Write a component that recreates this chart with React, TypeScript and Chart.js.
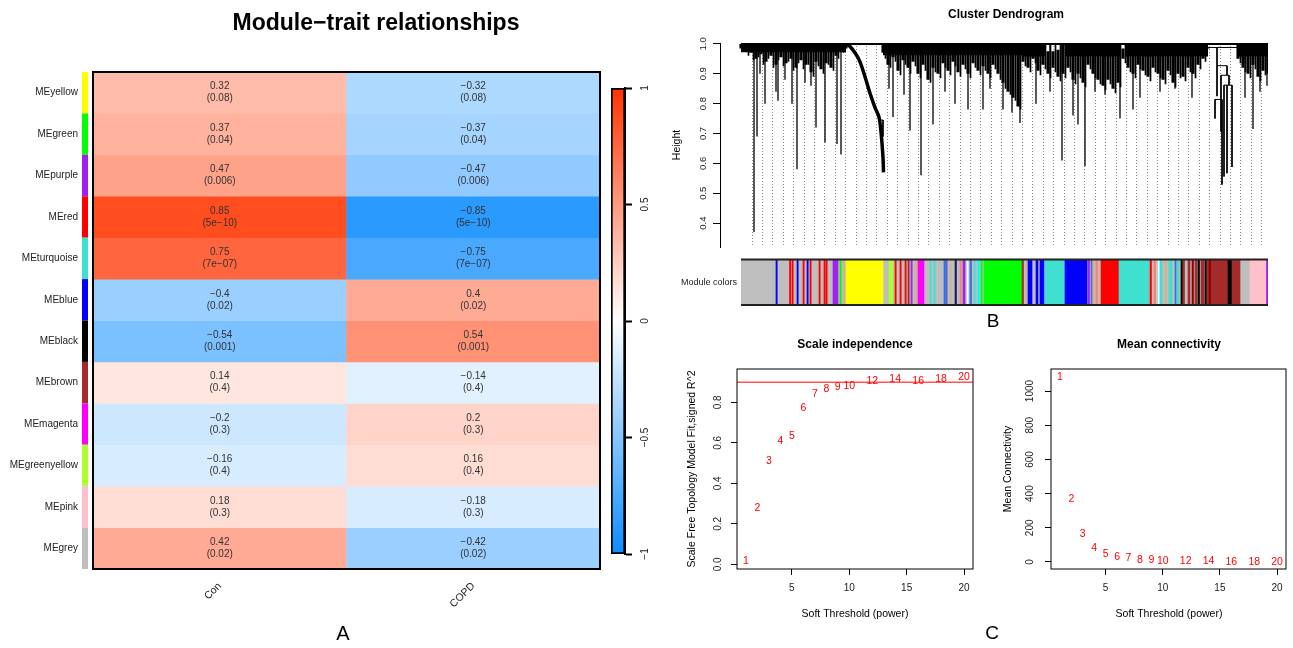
import React, { useEffect, useRef } from "react";
import { Chart, registerables } from "chart.js";

Chart.register(...registerables);

const FONT = '"Liberation Sans", Arial, Helvetica, sans-serif';
Chart.defaults.font.family = FONT;
Chart.defaults.color = "#222";
Chart.defaults.plugins.legend.display = false;
Chart.defaults.plugins.tooltip.enabled = false;

// ---------------- Panel A: module-trait heatmap ----------------
const modules = ["MEyellow", "MEgreen", "MEpurple", "MEred", "MEturquoise", "MEblue", "MEblack", "MEbrown", "MEmagenta", "MEgreenyellow", "MEpink", "MEgrey"];
const moduleColors = ["#FFFF00", "#00FF00", "#A020F0", "#FF0000", "#40E0D0", "#0000FF", "#000000", "#A52A2A", "#FF00FF", "#ADFF2F", "#FFC0CB", "#BEBEBE"];
const traits = ["Con", "COPD"];
const corCon = [0.32, 0.37, 0.47, 0.85, 0.75, -0.4, -0.54, 0.14, -0.2, -0.16, 0.18, 0.42];
const corCOPD = [-0.32, -0.37, -0.47, -0.85, -0.75, 0.4, 0.54, -0.14, 0.2, 0.16, -0.18, -0.42];
const pValues = ["0.08", "0.04", "0.006", "5e\u221210", "7e\u221207", "0.02", "0.001", "0.4", "0.3", "0.4", "0.3", "0.02"];
const colorbarTicks = [-1, -0.5, 0, 0.5, 1];

// ---------------- Panel B: dendrogram (leaf order 0-527, merge height) ----------------
// solid caps of the dense clusters: start, end, lower height
const capStart = [0, 142, 282, 324, 384, 497];
const capEnd = [105, 282, 305, 380, 467, 527];
const capFloor = [0.972, 0.962, 0.958, 0.958, 0.958, 0.958];
// main leaf fringe
const massPos = [0, 5, 10, 15, 20, 25, 30, 35, 40, 45, 50, 55, 60, 65, 70, 75, 80, 85, 90, 95, 100, 105,
  142, 147, 152, 157, 162, 167, 172, 177, 182, 187, 192, 197, 202, 207, 212, 217, 222, 227, 232, 237, 242, 247, 252,
  257, 262, 267, 272, 277, 282, 287, 292, 297, 302, 307, 312, 317, 322, 327, 332, 337, 342, 347, 352, 357, 362, 367,
  372, 377, 382, 387, 392, 397, 402, 407, 412, 417, 422, 427, 432, 437, 442, 447, 452, 457, 462, 467,
  497, 502, 507, 512, 517, 522, 527];
const massFloor = [0.985, 0.975, 0.97, 0.95, 0.965, 0.94, 0.96, 0.93, 0.955, 0.935, 0.95, 0.92, 0.945, 0.93, 0.905, 0.94, 0.915, 0.935, 0.92, 0.96, 0.975, 0.985,
  0.97, 0.93, 0.955, 0.91, 0.945, 0.92, 0.94, 0.9, 0.93, 0.88, 0.92, 0.9, 0.935, 0.91, 0.94, 0.905, 0.93, 0.9, 0.935, 0.91, 0.925, 0.9, 0.93,
  0.9, 0.87, 0.84, 0.82, 0.79, 0.94, 0.92, 0.95, 0.91, 0.93, 0.9, 0.92, 0.89, 0.9, 0.92, 0.88, 0.9, 0.87, 0.93, 0.9, 0.88, 0.86, 0.88,
  0.85, 0.87, 0.95, 0.92, 0.9, 0.93, 0.91, 0.89, 0.92, 0.9, 0.88, 0.91, 0.87, 0.9, 0.89, 0.92, 0.9, 0.93, 0.95, 0.985,
  0.95, 0.92, 0.9, 0.93, 0.89, 0.91, 0.9];
const massTop = [1, 1, 1, 1, 1, 1, 1, 1, 1, 1, 1, 1, 1, 1, 1, 1, 1, 1, 1, 1, 1, 1,
  1, 1, 1, 1, 1, 1, 1, 1, 1, 1, 1, 1, 1, 1, 1, 1, 1, 1, 1, 1, 1, 1, 1,
  1, 1, 1, 1, 1, 1, 1, 1, 1, 1, 0.975, 0.975, 0.98, 1, 1, 1, 1, 1, 1, 1, 1, 1, 1,
  1, 1, 0.985, 1, 1, 1, 1, 1, 1, 1, 1, 1, 1, 1, 1, 1, 1, 1, 1, 0.99,
  1, 1, 1, 1, 1, 1, 1];
// secondary leaf fringe between the main ones
const minorPos = [2.5, 7.5, 12.5, 17.5, 22.5, 27.5, 32.5, 37.5, 42.5, 47.5, 52.5, 57.5, 62.5, 67.5, 72.5, 77.5, 82.5, 87.5, 92.5, 97.5, 102.5,
  144.5, 149.5, 154.5, 159.5, 164.5, 169.5, 174.5, 179.5, 184.5, 189.5, 194.5, 199.5, 204.5, 209.5, 214.5, 219.5, 224.5, 229.5, 234.5, 239.5,
  244.5, 249.5, 254.5, 259.5, 264.5, 269.5, 274.5, 279.5, 284.5, 289.5, 294.5, 299.5, 304.5, 309.5, 314.5, 319.5, 324.5, 329.5, 334.5, 339.5,
  344.5, 349.5, 354.5, 359.5, 364.5, 369.5, 374.5, 379.5, 384.5, 389.5, 394.5, 399.5, 404.5, 409.5, 414.5, 419.5, 424.5, 429.5, 434.5, 439.5,
  444.5, 449.5, 454.5, 459.5, 464.5, 499.5, 504.5, 509.5, 514.5, 519.5, 524.5];
const minorBottom = [0.975, 0.96, 0.945, 0.955, 0.93, 0.95, 0.92, 0.945, 0.925, 0.94, 0.91, 0.935, 0.915, 0.93, 0.89, 0.925, 0.9, 0.93, 0.91, 0.95, 0.97,
  0.95, 0.92, 0.94, 0.895, 0.93, 0.9, 0.925, 0.885, 0.91, 0.87, 0.905, 0.885, 0.92, 0.895, 0.925, 0.89, 0.915, 0.885, 0.92, 0.895,
  0.91, 0.885, 0.915, 0.88, 0.85, 0.83, 0.81, 0.78, 0.925, 0.905, 0.935, 0.895, 0.915, 0.885, 0.905, 0.875, 0.885, 0.905, 0.865, 0.885,
  0.855, 0.915, 0.885, 0.865, 0.845, 0.865, 0.835, 0.855, 0.935, 0.905, 0.885, 0.915, 0.895, 0.875, 0.905, 0.885, 0.865, 0.895, 0.855, 0.885,
  0.875, 0.905, 0.885, 0.915, 0.94, 0.935, 0.905, 0.885, 0.915, 0.875, 0.895];
// long single branches
const spikePos = [13, 16, 19, 24, 35, 37, 44, 51, 56, 64, 70, 75, 84, 96, 100, 148, 152, 163, 169, 180, 192, 204, 214, 227, 242, 249,
  262, 271, 279, 295, 309, 321, 332, 337, 344, 354, 364, 379, 392, 399, 419, 434, 451, 504, 512, 519, 526];
const spikeBottom = [0.37, 0.69, 0.9, 0.8, 0.84, 0.81, 0.88, 0.8, 0.58, 0.87, 0.86, 0.72, 0.67, 0.665, 0.63, 0.85, 0.755, 0.83, 0.71, 0.56, 0.73, 0.84, 0.8, 0.78, 0.78, 0.85,
  0.78, 0.77, 0.735, 0.8, 0.84, 0.61, 0.76, 0.73, 0.59, 0.84, 0.83, 0.75, 0.78, 0.82, 0.84, 0.85, 0.82, 0.82, 0.715, 0.84, 0.86];
const yellowArmPos = [94, 107, 114, 119, 124, 129, 134, 138, 140, 142, 142.5];
const yellowArmH = [1.0, 0.997, 0.97, 0.94, 0.89, 0.835, 0.787, 0.755, 0.706, 0.62, 0.57];
// [pos1, h1, pos2, h2]
const branchSegs = [
  [138, 0.745, 142, 0.745], [142, 0.745, 142, 0.69],
  [464, 0.988, 496, 0.988], [476, 0.988, 476, 0.927], [476, 0.927, 486, 0.927], [476, 0.927, 476, 0.825],
  [486, 0.927, 486, 0.895], [480, 0.895, 488, 0.895], [480, 0.895, 480, 0.706], [488, 0.895, 488, 0.862],
  [483, 0.862, 491, 0.862], [483, 0.862, 483, 0.556], [491, 0.862, 491, 0.588], [474, 0.814, 481, 0.814],
  [481, 0.814, 481, 0.529], [474, 0.814, 474, 0.75], [486, 0.862, 486, 0.567],
];
const heightTicks = [0.4, 0.5, 0.6, 0.7, 0.8, 0.9, 1.0];

// module colour band: start, end (leaf order), colour
const bandStart = [0, 35, 48.5, 51, 56, 62, 66, 69, 78, 83, 85, 92, 99, 102, 105, 148, 154, 159, 164, 167, 170, 174, 177, 189, 193, 203, 205, 209, 214, 219, 222, 226, 229, 233, 237, 240, 243,
  281, 285, 287, 295, 299, 304, 324, 347, 350, 352, 355, 360, 378, 409, 413, 417, 419, 424, 428, 434, 436, 440, 442, 447, 451, 454, 457, 460, 464, 466, 468, 487, 491, 509, 525.5];
const bandEnd = [527, 36.2, 49.7, 52.2, 57.2, 63.2, 67.2, 70.2, 79.2, 84.2, 86.2, 97, 100.2, 104, 142, 152, 155.2, 160.2, 165.2, 168.2, 171.2, 176, 183, 190.2, 194.2, 204.5, 206.2, 210.5, 215.5, 220.2, 224, 227.2, 230.5, 234.2, 238.5, 241.2, 281,
  282.5, 286, 291, 297, 303, 324, 346, 348.5, 351.2, 353.5, 356.5, 378, 408, 410.5, 414.5, 418.5, 421, 425.5, 431, 435.2, 438, 441.5, 443.5, 449, 452.5, 456, 458.5, 463, 465.5, 487, 469.5, 491, 499, 525, 526.7];
const bandColor = ["#BEBEBE", "#0000FF", "#FF0000", "#FF0000", "#0000FF", "#FF0000", "#0000FF", "#FF0000", "#FF0000", "#FF0000", "#FF0000", "#A020F0", "#00FF00", "#D2B48C", "#FFFF00", "#ADFF2F", "#FF0000", "#FF0000", "#FF0000", "#A52A2A", "#A020F0", "#D2B48C", "#FF00FF", "#40E0D0", "#40E0D0", "#4169E1", "#4169E1", "#D2B48C", "#191970", "#FA8072", "#A020F0", "#E0FFFF", "#4169E1", "#40E0D0", "#00FFFF", "#00FF00", "#00FF00",
  "#A52A2A", "#D2B48C", "#0000FF", "#0000FF", "#0000FF", "#40E0D0", "#0000FF", "#A020F0", "#4169E1", "#D2B48C", "#FA8072", "#FF0000", "#40E0D0", "#FF0000", "#FA8072", "#E0FFFF", "#40E0D0", "#D2B48C", "#40E0D0", "#4169E1", "#40E0D0", "#000000", "#A52A2A", "#A52A2A", "#8B0000", "#A52A2A", "#000000", "#A52A2A", "#000000", "#A52A2A", "#8B0000", "#000000", "#A52A2A", "#FFC0CB", "#A020F0"];

// ---------------- Panel C: soft threshold ----------------
const powers = [1, 2, 3, 4, 5, 6, 7, 8, 9, 10, 12, 14, 16, 18, 20];
const sftFit = [0.016, 0.28, 0.51, 0.61, 0.635, 0.774, 0.841, 0.864, 0.876, 0.882, 0.907, 0.915, 0.907, 0.917, 0.924];
const meanK = [1080, 369, 164, 82, 49, 29, 21, 12, 10, 8, 4, 3, 2, 2, 1];
const powerTicks = [5, 10, 15, 20];
const fitTicks = [0, 0.2, 0.4, 0.6, 0.8];
const kTicks = [0, 200, 400, 600, 800, 1000];
const fitCutoff = 0.9;

// ---------------- helpers ----------------
const fmtNum = (v: number) => (v < 0 ? "\u2212" : "") + String(Math.abs(v));

function heatColor(v: number): string {
  const blue = [13, 140, 255];
  const red = [255, 51, 0];
  const k = Math.min(24, Math.floor(Math.abs(v) * 25));
  const f = k / 24;
  const end = v >= 0 ? red : blue;
  const c = end.map((e) => Math.round(255 + (e - 255) * f));
  return `rgb(${c[0]},${c[1]},${c[2]})`;
}

type TextItem = { text: string; x: number; y: number; font: string; color?: string; rotate?: number; align?: CanvasTextAlign };
function textPlugin(items: TextItem[]) {
  return {
    id: "freeText",
    afterDraw(chart: any) {
      const ctx = chart.ctx;
      items.forEach((it) => {
        ctx.save();
        ctx.translate(it.x, it.y);
        if (it.rotate) ctx.rotate(it.rotate);
        ctx.font = it.font;
        ctx.fillStyle = it.color || "#000";
        ctx.textAlign = it.align || "center";
        ctx.textBaseline = "middle";
        ctx.fillText(it.text, 0, 0);
        ctx.restore();
      });
    },
  };
}

function boxPlugin(width: number) {
  return {
    id: "frameBox",
    afterDatasetsDraw(chart: any) {
      const { ctx, chartArea: a } = chart;
      ctx.save();
      ctx.strokeStyle = "#000";
      ctx.lineWidth = width;
      ctx.strokeRect(a.left, a.top, a.right - a.left, a.bottom - a.top);
      ctx.restore();
    },
  };
}

const cellTextPlugin = {
  id: "cellText",
  afterDatasetsDraw(chart: any) {
    const { ctx } = chart;
    const x = chart.scales.x;
    const y = chart.scales.y;
    ctx.save();
    ctx.font = `10px ${FONT}`;
    ctx.fillStyle = "#333";
    ctx.textAlign = "center";
    ctx.textBaseline = "middle";
    modules.forEach((_, i) => {
      const cy = y.getPixelForValue(i + 0.5);
      [corCon, corCOPD].forEach((arr, j) => {
        const cx = x.getPixelForValue(j);
        ctx.fillText(fmtNum(arr[i]), cx, cy - 6);
        ctx.fillText(`(${pValues[i]})`, cx, cy + 6);
      });
    });
    ctx.restore();
  },
};

const sideBarPlugin = {
  id: "sideBar",
  afterDraw(chart: any) {
    const { ctx, chartArea } = chart;
    const y = chart.scales.y;
    ctx.save();
    modules.forEach((_, i) => {
      const t = y.getPixelForValue(i);
      const b = y.getPixelForValue(i + 1);
      ctx.fillStyle = moduleColors[i];
      ctx.fillRect(chartArea.left - 11, t, 6, b - t);
    });
    ctx.restore();
  },
};

const bandLinesPlugin = {
  id: "bandLines",
  afterDatasetsDraw(chart: any) {
    const { ctx, chartArea: a } = chart;
    ctx.save();
    ctx.strokeStyle = "#222";
    ctx.lineWidth = 2;
    ctx.beginPath();
    ctx.moveTo(a.left, a.top);
    ctx.lineTo(a.right, a.top);
    ctx.moveTo(a.left, a.bottom);
    ctx.lineTo(a.right, a.bottom);
    ctx.stroke();
    ctx.restore();
  },
};

const pointTextPlugin = {
  id: "pointText",
  afterDatasetsDraw(chart: any) {
    const ctx = chart.ctx;
    chart.data.datasets.forEach((ds: any, i: number) => {
      if (!ds.textLabels) return;
      const meta = chart.getDatasetMeta(i);
      ctx.save();
      ctx.font = `10.5px ${FONT}`;
      ctx.fillStyle = ds.textColor;
      ctx.textAlign = "center";
      ctx.textBaseline = "middle";
      meta.data.forEach((el: any, j: number) => ctx.fillText(ds.textLabels[j], el.x, el.y));
      ctx.restore();
    });
  },
};

const fixedTicks = (vals: number[]) => (s: any) => {
  s.ticks = vals.map((v) => ({ value: v }));
};

// ---------------- chart configs ----------------
function heatmapConfig(): any {
  return {
    type: "bar",
    data: {
      labels: traits,
      datasets: modules.map((m, i) => ({
        label: m,
        data: traits.map(() => [i, i + 1]),
        backgroundColor: [heatColor(corCon[i]), heatColor(corCOPD[i])],
        borderWidth: 0,
        grouped: false,
        barPercentage: 1,
        categoryPercentage: 1,
      })),
    },
    options: {
      responsive: false,
      animation: false,
      events: [],
      layout: { padding: { left: 0, right: 5, top: 72, bottom: 0 } },
      scales: {
        x: {
          type: "category",
          offset: true,
          grid: { display: false, drawTicks: false },
          border: { display: false },
          ticks: { minRotation: 45, maxRotation: 45, padding: 11, font: { size: 10.5 }, color: "#222", autoSkip: false },
          afterFit: (s: any) => { s.height = 79; },
        },
        y: {
          type: "linear",
          reverse: true,
          min: 0,
          max: 12,
          beginAtZero: false,
          grid: { display: false, drawTicks: false },
          border: { display: false },
          afterBuildTicks: (s: any) => { s.ticks = modules.map((_, i) => ({ value: i + 0.5 })); },
          ticks: { callback: (_v: any, idx: number) => modules[idx], padding: 15, font: { size: 10 }, color: "#222", autoSkip: false },
          afterFit: (s: any) => { s.width = 93; },
        },
      },
    },
    plugins: [
      cellTextPlugin,
      sideBarPlugin,
      boxPlugin(2),
      textPlugin([
        { text: "Module\u2212trait relationships", x: 376, y: 24, font: `bold 23px ${FONT}` },
        { text: "A", x: 343, y: 634, font: `20px ${FONT}` },
      ]),
    ],
  };
}

function colorbarConfig(): any {
  return {
    type: "bar",
    data: {
      labels: ["scale"],
      datasets: [{
        data: [[colorbarTicks[0], colorbarTicks[colorbarTicks.length - 1]]],
        backgroundColor: (c: any) => {
          const { ctx, chartArea } = c.chart;
          if (!chartArea) return "#fff";
          const g = ctx.createLinearGradient(0, chartArea.bottom, 0, chartArea.top);
          g.addColorStop(0, heatColor(-1));
          g.addColorStop(0.5, "#ffffff");
          g.addColorStop(1, heatColor(1));
          return g;
        },
        borderColor: "#000",
        borderWidth: 2,
        borderSkipped: false,
        barPercentage: 1,
        categoryPercentage: 1,
      }],
    },
    options: {
      responsive: false,
      animation: false,
      events: [],
      layout: { padding: { left: 11, right: 0, top: 88, bottom: 94 } },
      scales: {
        x: { display: false },
        y: {
          position: "right",
          min: -1,
          max: 1,
          beginAtZero: false,
          afterBuildTicks: fixedTicks(colorbarTicks),
          ticks: { minRotation: 90, maxRotation: 90, crossAlign: "center", padding: 3, font: { size: 10 }, color: "#222", callback: (v: number) => fmtNum(v) },
          grid: { drawOnChartArea: false, tickLength: 7, tickColor: "#000", tickWidth: 2 },
          border: { display: true, color: "#000", width: 2 },
          afterFit: (s: any) => { s.width = 35; },
        },
      },
    },
  };
}

function vLines(pos: number[], bottom: number[]) {
  const out: any[] = [];
  pos.forEach((p, i) => {
    out.push({ x: p, y: 1 }, { x: p, y: bottom[i] }, { x: p, y: null });
  });
  return out;
}

function dendroConfig(): any {
  const segData: any[] = [];
  branchSegs.forEach((s) => {
    segData.push({ x: s[0], y: s[1] }, { x: s[2], y: s[3] }, { x: s[2], y: null });
  });
  const capSets = capStart.map((s, i) => ({
    type: "line",
    data: [{ x: s, y: capFloor[i] }, { x: capEnd[i], y: capFloor[i] }],
    fill: { value: 1 },
    backgroundColor: "#000",
    borderWidth: 0,
    pointRadius: 0,
  }));
  return {
    type: "bar",
    data: {
      datasets: [
        {
          type: "bar",
          data: massPos.map((p, i) => ({ x: p, y: [massFloor[i], massTop[i]] })),
          backgroundColor: "#000",
          borderWidth: 0,
          barPercentage: 0.62,
          categoryPercentage: 1,
        },
        { type: "line", data: vLines(minorPos, minorBottom), borderColor: "#000", borderWidth: 1.7, pointRadius: 0, spanGaps: false },
        { type: "line", data: [{ x: massPos[0], y: 1 }, { x: massPos[massPos.length - 1], y: 1 }], borderColor: "#000", borderWidth: 2, pointRadius: 0 },
        { type: "line", data: vLines(spikePos, spikeBottom), borderColor: "#000", borderWidth: 1.3, pointRadius: 0, spanGaps: false },
        { type: "line", data: yellowArmPos.map((p, i) => ({ x: p, y: yellowArmH[i] })), borderColor: "#000", borderWidth: 3.5, pointRadius: 0, tension: 0.3 },
        { type: "line", data: segData, borderColor: "#000", borderWidth: 1, pointRadius: 0, spanGaps: false },
        ...capSets,
      ],
    },
    options: {
      responsive: false,
      animation: false,
      events: [],
      layout: { padding: { left: 0, right: 25, top: 43, bottom: 1 } },
      scales: {
        x: {
          type: "linear",
          min: -21,
          max: 527,
          offset: false,
          afterBuildTicks: (s: any) => { s.ticks = Array.from({ length: 50 }, (_, i) => ({ value: 11 + i * 10.4 })); },
          ticks: { display: false },
          grid: { color: "#8a8a8a", lineWidth: 1, drawTicks: false, offset: false },
          border: { display: false, dash: [1, 2] },
          afterFit: (s: any) => { s.height = 0; },
        },
        y: {
          type: "linear",
          min: 0.319,
          max: 1.003,
          beginAtZero: false,
          afterBuildTicks: fixedTicks(heightTicks),
          ticks: { minRotation: 90, maxRotation: 90, crossAlign: "center", padding: 3, font: { size: 9.5 }, color: "#222", callback: (v: number) => v.toFixed(1) },
          grid: { drawOnChartArea: false, tickLength: 7, tickColor: "#000" },
          border: { display: true, color: "#000", width: 1 },
          afterFit: (s: any) => { s.width = 60; },
        },
      },
    },
    plugins: [
      textPlugin([
        { text: "Cluster Dendrogram", x: 346, y: 15, font: `bold 12px ${FONT}` },
        { text: "Height", x: 17, y: 145, font: `10.5px ${FONT}`, rotate: -Math.PI / 2 },
      ]),
    ],
  };
}

function bandConfig(): any {
  return {
    type: "bar",
    data: {
      labels: ["Module colors"],
      datasets: [{
        data: bandStart.map((s, i) => ({ x: [s, bandEnd[i]], y: "Module colors" })),
        backgroundColor: bandColor,
        borderWidth: 0,
        barPercentage: 1,
        categoryPercentage: 1,
      }],
    },
    options: {
      responsive: false,
      animation: false,
      events: [],
      indexAxis: "y",
      layout: { padding: { left: 0, right: 25, top: 6, bottom: 35 } },
      scales: {
        x: { type: "linear", min: 0, max: 527, display: false },
        y: {
          type: "category",
          grid: { display: false, drawTicks: false },
          border: { display: false },
          ticks: { font: { size: 9 }, color: "#222", padding: 4 },
          afterFit: (s: any) => { s.width = 81; },
        },
      },
    },
    plugins: [bandLinesPlugin, textPlugin([{ text: "B", x: 333, y: 72, font: `19px ${FONT}` }])],
  };
}

function scatterConfig(opts: {
  values: number[]; yMin: number; yMax: number; yTicks: number[]; yFmt: (v: number) => string; yPad: number;
  yWidth: number; rightPad: number; cutoff?: number; texts: TextItem[];
}): any {
  const datasets: any[] = [
    {
      data: powers.map((p, i) => ({ x: p, y: opts.values[i] })),
      pointRadius: 0,
      textLabels: powers.map(String),
      textColor: "#FF0000",
    },
  ];
  if (opts.cutoff !== undefined) {
    datasets.push({ type: "line", data: [{ x: 0, y: opts.cutoff }, { x: 21, y: opts.cutoff }], borderColor: "#FF0000", borderWidth: 1, pointRadius: 0 });
  }
  return {
    type: "scatter",
    data: { datasets },
    options: {
      responsive: false,
      animation: false,
      events: [],
      layout: { padding: { left: 0, right: opts.rightPad, top: 39, bottom: 0 } },
      scales: {
        x: {
          type: "linear",
          min: 0.22,
          max: 20.78,
          afterBuildTicks: fixedTicks(powerTicks),
          ticks: { font: { size: 10 }, color: "#222", padding: 7 },
          grid: { drawOnChartArea: false, tickLength: 6, tickColor: "#000" },
          border: { display: false },
          afterFit: (s: any) => { s.height = 79; },
        },
        y: {
          type: "linear",
          min: opts.yMin,
          max: opts.yMax,
          beginAtZero: false,
          afterBuildTicks: fixedTicks(opts.yTicks),
          ticks: { minRotation: 90, maxRotation: 90, crossAlign: "center", padding: opts.yPad, font: { size: 10 }, color: "#222", callback: (v: number) => opts.yFmt(v) },
          grid: { drawOnChartArea: false, tickLength: 6, tickColor: "#000" },
          border: { display: false },
          afterFit: (s: any) => { s.width = opts.yWidth; },
        },
      },
    },
    plugins: [boxPlugin(1), pointTextPlugin, textPlugin(opts.texts)],
  };
}

// ---------------- components ----------------
function ChartBox(props: { left: number; top: number; width: number; height: number; make: () => any }) {
  const ref = useRef<HTMLCanvasElement>(null);
  useEffect(() => {
    const chart = new Chart(ref.current as HTMLCanvasElement, props.make());
    return () => chart.destroy();
  }, []);
  return (
    <canvas
      ref={ref}
      width={props.width}
      height={props.height}
      style={{ position: "absolute", left: props.left, top: props.top, width: props.width, height: props.height }}
    />
  );
}

export default function App() {
  return (
    <div style={{ position: "absolute", left: 0, top: 0, width: 1293, height: 648, background: "#fff", overflow: "hidden" }}>
      <ChartBox left={0} top={0} width={605} height={648} make={heatmapConfig} />
      <ChartBox left={600} top={0} width={60} height={648} make={colorbarConfig} />
      <ChartBox left={660} top={0} width={633} height={256} make={dendroConfig} />
      <ChartBox left={660} top={250} width={633} height={90} make={bandConfig} />
      <ChartBox
        left={660}
        top={330}
        width={330}
        height={318}
        make={() =>
          scatterConfig({
            values: sftFit, yMin: -0.023, yMax: 0.965, yTicks: fitTicks, yFmt: (v) => v.toFixed(1), yPad: 6,
            yWidth: 77, rightPad: 17, cutoff: fitCutoff,
            texts: [
              { text: "Scale independence", x: 195, y: 15, font: `bold 12px ${FONT}` },
              { text: "Soft Threshold (power)", x: 195, y: 284, font: `10.5px ${FONT}` },
              { text: "Scale Free Topology Model Fit,signed R^2", x: 32, y: 139, font: `10.5px ${FONT}`, rotate: -Math.PI / 2 },
            ],
          })
        }
      />
      <ChartBox
        left={980}
        top={330}
        width={313}
        height={318}
        make={() =>
          scatterConfig({
            values: meanK, yMin: -41, yMax: 1129, yTicks: kTicks, yFmt: (v) => String(v), yPad: 4,
            yWidth: 71, rightPad: 7,
            texts: [
              { text: "Mean connectivity", x: 189, y: 15, font: `bold 12px ${FONT}` },
              { text: "Soft Threshold (power)", x: 189, y: 284, font: `10.5px ${FONT}` },
              { text: "Mean Connectivity", x: 28, y: 139, font: `10.5px ${FONT}`, rotate: -Math.PI / 2 },
              { text: "C", x: 12, y: 304, font: `19px ${FONT}` },
            ],
          })
        }
      />
    </div>
  );
}
